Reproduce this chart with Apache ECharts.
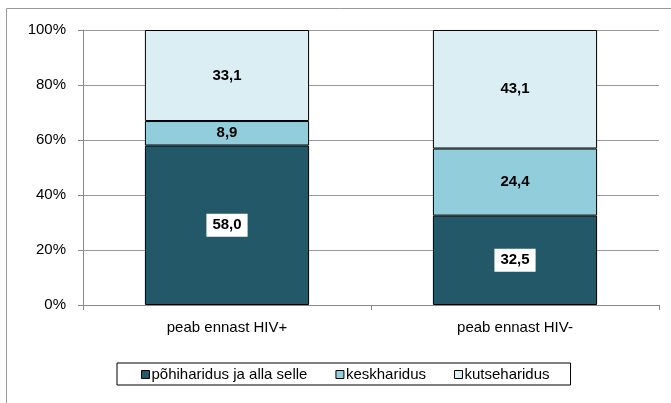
<!DOCTYPE html>
<html>
<head>
<meta charset="utf-8">
<script src="https://cdn.jsdelivr.net/npm/echarts@6/dist/echarts.min.js"></script>
<style>
  html, body { margin: 0; padding: 0; background: #fff; }
  #chart { width: 671px; height: 403px; }
</style>
</head>
<body>
<div id="chart"></div>
<script>
// kategooriad ja osakaalud (%)
const categories = ["peab ennast HIV+", "peab ennast HIV-"];
const pohiharidus = [58.0, 32.5];
const keskharidus = [8.9, 24.4];
const kutseharidus = [33.1, 43.1];
const seriesNames = ["põhiharidus ja alla selle", "keskharidus", "kutseharidus"];
const colors = ["#235868", "#92CDDC", "#DBEEF3"];

const chart = echarts.init(document.getElementById("chart"));
const fmt = (p) => p.value.toFixed(1).replace(".", ",");
const font = "Liberation Sans, Arial, sans-serif";

function makeSeries(name, data, color, boxed) {
  return {
    name: name,
    type: "bar",
    stack: "total",
    barWidth: "57%",
    data: data,
    itemStyle: { color: color, borderColor: "#000", borderWidth: 1 },
    label: {
      show: true,
      position: "inside",
      formatter: fmt,
      color: "#000",
      fontWeight: "bold",
      fontSize: 15,
      fontFamily: font,
      backgroundColor: boxed ? "#fff" : "transparent",
      padding: boxed ? [4, 6] : 0,
    },
  };
}

chart.setOption({
  animation: false,
  textStyle: { fontFamily: font },
  color: colors,
  graphic: [
    {
      type: "rect",
      shape: { x: 6.5, y: 8.5, width: 700, height: 420 },
      style: { fill: "none", stroke: "#999", lineWidth: 1 },
    },
  ],
  grid: { left: 83, right: 12, top: 30, bottom: 98 },
  legend: {
    left: 117,
    top: 363,
    padding: [4, 21, 3, 24],
    borderColor: "#000",
    borderWidth: 1,
    itemWidth: 8,
    itemHeight: 8,
    itemGap: 28,
    icon: "rect",
    itemStyle: { borderColor: "#000", borderWidth: 1 },
    textStyle: { fontSize: 15, color: "#000", fontFamily: font, padding: [0, 0, 0, -3] },
    data: seriesNames,
  },
  xAxis: {
    type: "category",
    data: categories,
    axisLine: { lineStyle: { color: "#888" } },
    axisTick: { show: true, length: 5, lineStyle: { color: "#888" } },
    axisLabel: { color: "#000", fontSize: 15, margin: 15 },
  },
  yAxis: {
    type: "value",
    min: 0,
    max: 100,
    interval: 20,
    axisLine: { show: true, lineStyle: { color: "#888" } },
    axisTick: { show: true, length: 5, lineStyle: { color: "#888" } },
    axisLabel: { formatter: "{value}%", color: "#000", fontSize: 15, margin: 17 },
    splitLine: { lineStyle: { color: "#999" } },
  },
  series: [
    makeSeries(seriesNames[0], pohiharidus, colors[0], true),
    makeSeries(seriesNames[1], keskharidus, colors[1], false),
    makeSeries(seriesNames[2], kutseharidus, colors[2], false),
  ],
});
</script>
</body>
</html>
